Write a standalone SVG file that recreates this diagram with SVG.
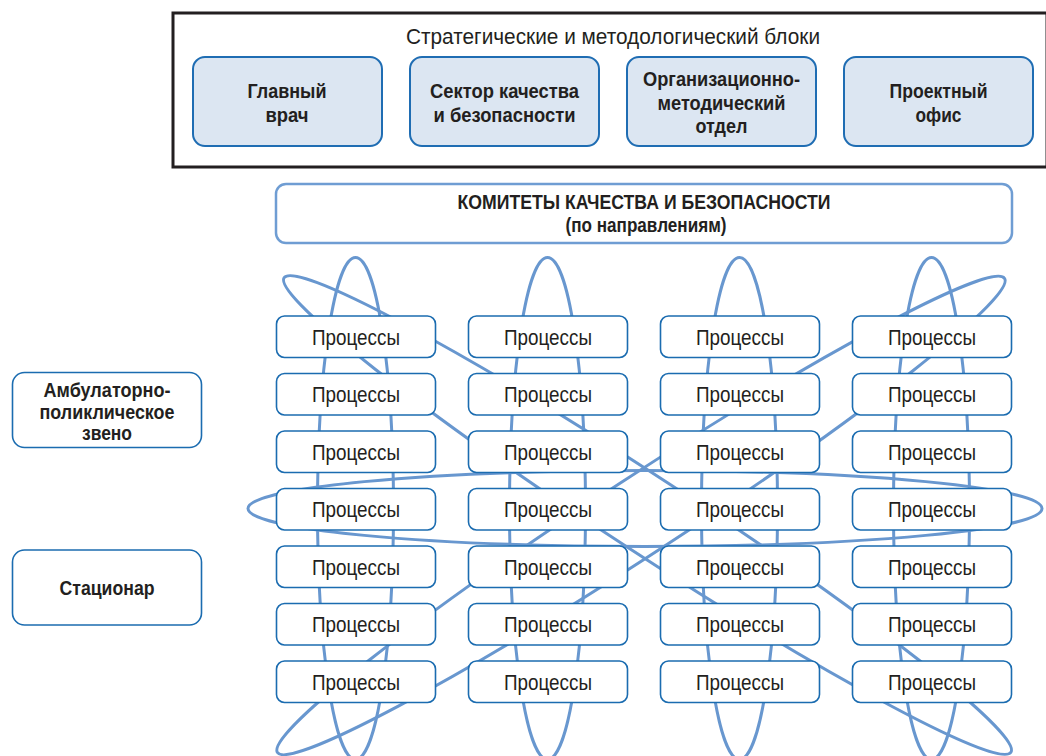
<svg xmlns="http://www.w3.org/2000/svg" width="1046" height="756" viewBox="0 0 1046 756">
<style>
.frame{fill:#fff;stroke:#231f20;stroke-width:3}
.blk{fill:#dce6f2;stroke:#1f6db3;stroke-width:2}
.box{fill:#fff;stroke:#1b6cb0;stroke-width:1.6}
.com{fill:#fff;stroke:#6f9dd3;stroke-width:2.5}
.orb{fill:none;stroke:#6897cf;stroke-width:3}
text{font-family:"Liberation Sans Narrow","Liberation Sans",Arial,sans-serif;fill:#231f20;text-anchor:middle}
.r{font-size:22.5px}
.t{font-size:22px}
.b{font-size:21px;font-weight:bold}
</style>
<rect width="1046" height="756" fill="#fff"/>
<g id="strategic-block">
<rect class="frame" x="173" y="13" width="874" height="154"/>
<text class="t" x="613" y="44" textLength="414" lengthAdjust="spacingAndGlyphs">Стратегические и методологический блоки</text>
</g>
<g id="chief-doctor">
<rect class="blk" x="193" y="57" width="189" height="89" rx="12"/>
<text class="b" x="287" y="98" textLength="79" lengthAdjust="spacingAndGlyphs">Главный</text>
<text class="b" x="287" y="122" textLength="43" lengthAdjust="spacingAndGlyphs">врач</text>
</g>
<g id="quality-sector">
<rect class="blk" x="410" y="57" width="189" height="89" rx="12"/>
<text class="b" x="504.5" y="98" textLength="149" lengthAdjust="spacingAndGlyphs">Сектор качества</text>
<text class="b" x="504.5" y="122" textLength="142" lengthAdjust="spacingAndGlyphs">и безопасности</text>
</g>
<g id="org-method">
<rect class="blk" x="627" y="57" width="189" height="89" rx="12"/>
<text class="b" x="721.5" y="86" textLength="157" lengthAdjust="spacingAndGlyphs">Организационно-</text>
<text class="b" x="721.5" y="110" textLength="128" lengthAdjust="spacingAndGlyphs">методический</text>
<text class="b" x="721.5" y="133" textLength="52" lengthAdjust="spacingAndGlyphs">отдел</text>
</g>
<g id="project-office">
<rect class="blk" x="844" y="57" width="189" height="89" rx="12"/>
<text class="b" x="938.5" y="98" textLength="98" lengthAdjust="spacingAndGlyphs">Проектный</text>
<text class="b" x="938.5" y="122" textLength="46" lengthAdjust="spacingAndGlyphs">офис</text>
</g>
<g id="committees">
<rect class="com" x="276" y="184" width="736" height="59" rx="10"/>
<text class="b" x="644" y="208.5" textLength="373" lengthAdjust="spacingAndGlyphs">КОМИТЕТЫ КАЧЕСТВА И БЕЗОПАСНОСТИ</text>
<text class="b" x="646" y="231.5" textLength="161" lengthAdjust="spacingAndGlyphs">(по направлениям)</text>
</g>
<g id="ambulatory">
<rect class="box" x="12.5" y="372.5" width="189" height="75" rx="12"/>
<text class="b" x="107" y="397" textLength="127" lengthAdjust="spacingAndGlyphs">Амбулаторно-</text>
<text class="b" x="107" y="419" textLength="135" lengthAdjust="spacingAndGlyphs">поликлическое</text>
<text class="b" x="107" y="440" textLength="50" lengthAdjust="spacingAndGlyphs">звено</text>
</g>
<g id="hospital">
<rect class="box" x="12.5" y="550" width="189" height="75" rx="12"/>
<text class="b" x="107" y="595" textLength="95" lengthAdjust="spacingAndGlyphs">Стационар</text>
</g>
<g id="connectors">
<ellipse class="orb" cx="355.5" cy="508.5" rx="38" ry="251"/>
<ellipse class="orb" cx="547.5" cy="508.5" rx="38" ry="251"/>
<ellipse class="orb" cx="739.5" cy="508.5" rx="38" ry="251"/>
<ellipse class="orb" cx="931.5" cy="508.5" rx="38" ry="251"/>
<ellipse class="orb" cx="645" cy="508.5" rx="397" ry="38"/>
<ellipse class="orb" cx="647.5" cy="515" rx="434" ry="38" transform="rotate(33.14 647.5 515)"/>
<ellipse class="orb" cx="641" cy="515.5" rx="434" ry="38.5" transform="rotate(-33.1 641 515.5)"/>
</g>
<defs>
<g id="proc">
<rect class="box" x="0" y="0" width="159" height="41.5" rx="8"/>
<text class="r" x="79.5" y="28.5" textLength="88" lengthAdjust="spacingAndGlyphs">Процессы</text>
</g>
</defs>
<g id="p-1-1"><use href="#proc" x="276.5" y="316"/></g>
<g id="p-1-2"><use href="#proc" x="276.5" y="373.5"/></g>
<g id="p-1-3"><use href="#proc" x="276.5" y="431"/></g>
<g id="p-1-4"><use href="#proc" x="276.5" y="488.5"/></g>
<g id="p-1-5"><use href="#proc" x="276.5" y="546"/></g>
<g id="p-1-6"><use href="#proc" x="276.5" y="603.5"/></g>
<g id="p-1-7"><use href="#proc" x="276.5" y="661"/></g>
<g id="p-2-1"><use href="#proc" x="468.5" y="316"/></g>
<g id="p-2-2"><use href="#proc" x="468.5" y="373.5"/></g>
<g id="p-2-3"><use href="#proc" x="468.5" y="431"/></g>
<g id="p-2-4"><use href="#proc" x="468.5" y="488.5"/></g>
<g id="p-2-5"><use href="#proc" x="468.5" y="546"/></g>
<g id="p-2-6"><use href="#proc" x="468.5" y="603.5"/></g>
<g id="p-2-7"><use href="#proc" x="468.5" y="661"/></g>
<g id="p-3-1"><use href="#proc" x="660.5" y="316"/></g>
<g id="p-3-2"><use href="#proc" x="660.5" y="373.5"/></g>
<g id="p-3-3"><use href="#proc" x="660.5" y="431"/></g>
<g id="p-3-4"><use href="#proc" x="660.5" y="488.5"/></g>
<g id="p-3-5"><use href="#proc" x="660.5" y="546"/></g>
<g id="p-3-6"><use href="#proc" x="660.5" y="603.5"/></g>
<g id="p-3-7"><use href="#proc" x="660.5" y="661"/></g>
<g id="p-4-1"><use href="#proc" x="852.5" y="316"/></g>
<g id="p-4-2"><use href="#proc" x="852.5" y="373.5"/></g>
<g id="p-4-3"><use href="#proc" x="852.5" y="431"/></g>
<g id="p-4-4"><use href="#proc" x="852.5" y="488.5"/></g>
<g id="p-4-5"><use href="#proc" x="852.5" y="546"/></g>
<g id="p-4-6"><use href="#proc" x="852.5" y="603.5"/></g>
<g id="p-4-7"><use href="#proc" x="852.5" y="661"/></g>
</svg>
